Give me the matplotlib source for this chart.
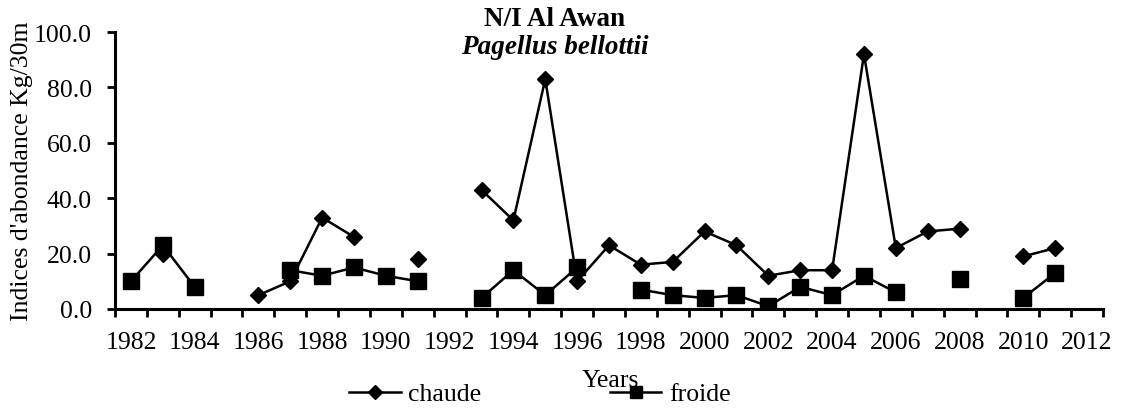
import numpy as np
import matplotlib
matplotlib.use('Agg')
import matplotlib.pyplot as plt
from matplotlib.ticker import FormatStrFormatter, MultipleLocator

plt.rcParams['font.family'] = ['Liberation Serif', 'DejaVu Serif']
plt.rcParams['font.size'] = 18.5

nan = np.nan
years = list(range(1982, 2012))
chaude = [nan, 20, nan, nan, 5, 10, 33, 26, nan, 18,
          nan, 43, 32, 83, 10, 23, 16, 17, 28, 23,
          12, 14, 14, 92, 22, 28, 29, nan, 19, 22]
froide = [10, 23, 8, nan, nan, 14, 12, 15, 12, 10,
          nan, 4, 14, 5, 15, nan, 7, 5, 4, 5,
          1, 8, 5, 12, 6, nan, 11, nan, 4, 13]
x_labels = list(range(1982, 2013, 2))

fig = plt.figure(figsize=(11.25, 4.14), dpi=100)
ax = fig.add_axes([115 / 1125, 1 - 310 / 414, 988 / 1125, 277 / 414])

ax.plot(years, chaude, color='black', lw=1.8, marker='D', ms=8.3, label='chaude')
ax.plot(years, froide, color='black', lw=1.8, marker='s', ms=11, label='froide')

ax.set_xlim(1981.5, 2012.5)
ax.set_ylim(0, 100)
ax.set_xticks(x_labels)
ax.set_xticklabels([str(v) for v in x_labels])
ax.xaxis.set_minor_locator(MultipleLocator(1, offset=0.5))
ax.tick_params(axis='x', which='major', length=0, pad=16)
ax.tick_params(axis='x', which='minor', length=5.5, width=2, direction='out')
ax.set_yticks(np.arange(0, 101, 20))
ax.yaxis.set_major_formatter(FormatStrFormatter('%.1f'))
ax.tick_params(axis='y', length=5.5, width=2, direction='out', pad=11)

for s in ['top', 'right']:
    ax.spines[s].set_visible(False)
for s in ['left', 'bottom']:
    ax.spines[s].set_linewidth(2.2)

ax.set_ylabel("Indices d'abondance Kg/30m", va='center')
ax.yaxis.set_label_coords((22 - 115) / 988, 0.5)
ax.set_xlabel('Years', va='center')
ax.xaxis.set_label_coords((610 - 115) / 988, -71 / 277)

fig.text(555 / 1125, 1 - 19 / 414, 'N/I Al Awan', ha='center', va='center',
         fontweight='bold', fontsize=19.5)
fig.text(555 / 1125, 1 - 48 / 414, 'Pagellus bellottii', ha='center', va='center',
         fontweight='bold', fontstyle='italic', fontsize=19.5)

ax.legend(loc='center', bbox_to_anchor=(540 / 1125, 1 - 395 / 414),
          bbox_transform=fig.transFigure, ncol=2, frameon=False,
          handlelength=2.0, handletextpad=0.3, columnspacing=5.0,
          borderpad=0, borderaxespad=0, markerscale=0.85)

fig.savefig('out.png', dpi=100)
